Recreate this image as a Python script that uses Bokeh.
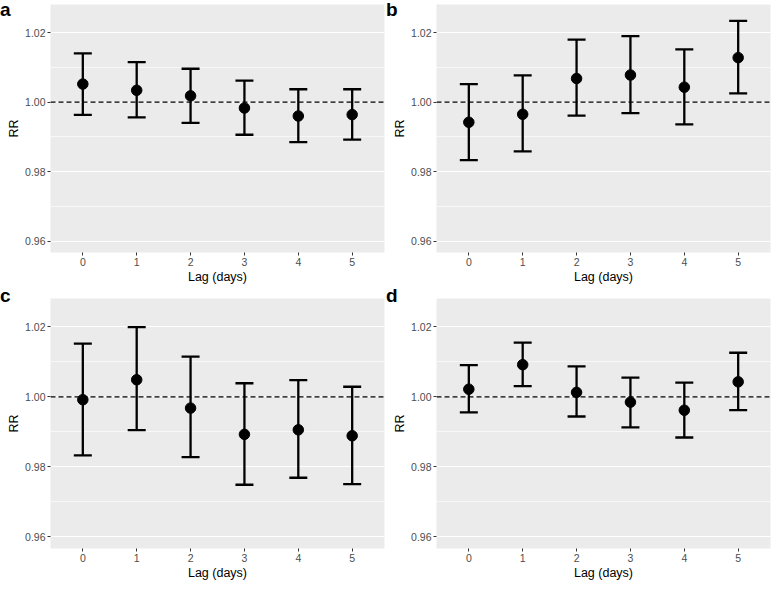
from bokeh.plotting import figure
from bokeh.layouts import column, row
from bokeh.models import (ColumnDataSource, Whisker, TeeHead, Span, Range1d, Div,
                          FixedTicker, CustomJSTickFormatter)
from bokeh.embed import file_html
from bokeh.resources import INLINE

lags = [0, 1, 2, 3, 4, 5]

rr_a = [1.0052, 1.0034, 1.0018, 0.9983, 0.9960, 0.9964]
lo_a = [0.9963, 0.9956, 0.9940, 0.9906, 0.9885, 0.9892]
hi_a = [1.0140, 1.0115, 1.0096, 1.0062, 1.0037, 1.0037]

rr_b = [0.9942, 0.9965, 1.0068, 1.0078, 1.0043, 1.0128]
lo_b = [0.9833, 0.9858, 0.9961, 0.9968, 0.9936, 1.0025]
hi_b = [1.0052, 1.0077, 1.0180, 1.0190, 1.0152, 1.0234]

rr_c = [0.9992, 1.0049, 0.9968, 0.9893, 0.9906, 0.9889]
lo_c = [0.9833, 0.9905, 0.9828, 0.9749, 0.9769, 0.9751]
hi_c = [1.0152, 1.0199, 1.0115, 1.0039, 1.0048, 1.0029]

rr_d = [1.0022, 1.0092, 1.0013, 0.9985, 0.9962, 1.0043]
lo_d = [0.9956, 1.0031, 0.9944, 0.9913, 0.9884, 0.9962]
hi_d = [1.0091, 1.0155, 1.0087, 1.0055, 1.0041, 1.0126]

panel_labels = ["a", "b", "c", "d"]
y_ticks = [0.96, 0.98, 1.00, 1.02]
y_minor = [0.97, 0.99, 1.01]

FONT = "Liberation Sans"
X0, X1 = -0.6, 5.6
Y0, Y1 = 0.9567, 1.0281
FW = 334


def make_panel(rr, lo, hi, top_border, frame_h):
    p = figure(frame_width=FW, frame_height=frame_h,
               x_range=Range1d(X0, X1), y_range=Range1d(Y0, Y1),
               output_backend="svg", toolbar_location=None,
               min_border_left=41, min_border_right=2,
               min_border_top=top_border, min_border_bottom=0)
    p.background_fill_color = "#EBEBEB"
    p.border_fill_color = "white"
    p.outline_line_color = None

    p.xgrid.visible = False
    p.ygrid.ticker = FixedTicker(ticks=y_ticks, minor_ticks=y_minor)
    p.ygrid.grid_line_color = "white"
    p.ygrid.grid_line_width = 1.2
    p.ygrid.minor_grid_line_color = "white"
    p.ygrid.minor_grid_line_width = 0.6

    p.xaxis.ticker = FixedTicker(ticks=lags)
    p.yaxis.ticker = FixedTicker(ticks=y_ticks)
    p.yaxis.formatter = CustomJSTickFormatter(code="return tick.toFixed(2);")

    for ax in (p.xaxis[0], p.yaxis[0]):
        ax.axis_line_color = None
        ax.major_tick_line_color = "#333333"
        ax.major_tick_line_width = 1
        ax.major_tick_out = 3
        ax.major_tick_in = 0
        ax.minor_tick_line_color = None
        ax.major_label_text_font = FONT
        ax.major_label_text_font_size = "10.5px"
        ax.major_label_text_color = "#4D4D4D"
        ax.major_label_standoff = 2
        ax.axis_label_text_font = FONT
        ax.axis_label_text_font_size = "12.5px"
        ax.axis_label_text_font_style = "normal"
        ax.axis_label_text_color = "black"
        ax.axis_label_standoff = 1
    p.xaxis.axis_label = "Lag (days)"
    p.yaxis.axis_label = "RR"

    src = ColumnDataSource(dict(x=lags, rr=rr, lo=lo, hi=hi))
    p.add_layout(Span(location=1.0, dimension="width", line_color="black",
                      line_width=1.4, line_dash="5 3"))
    w = Whisker(source=src, base="x", upper="hi", lower="lo",
                line_color="black", line_width=2.3,
                upper_head=TeeHead(size=18, line_color="black", line_width=2.3),
                lower_head=TeeHead(size=18, line_color="black", line_width=2.3))
    p.add_layout(w)
    p.scatter("x", "rr", source=src, size=10.5, color="black")
    return p


def letter(t):
    return Div(text=t, width=4, height=20, margin=0,
               styles={"font-family": FONT, "font-weight": "bold", "font-size": "19px",
                       "line-height": "19px", "overflow": "visible", "white-space": "nowrap",
                       "z-index": "10", "color": "black"})


pa = make_panel(rr_a, lo_a, hi_a, 4, 248)
pb = make_panel(rr_b, lo_b, hi_b, 4, 248)
pc = make_panel(rr_c, lo_c, hi_c, 12, 250)
pd = make_panel(rr_d, lo_d, hi_d, 12, 250)

layout = column(row(letter(panel_labels[0]), pa, letter(panel_labels[1]), pb, spacing=0),
                row(letter(panel_labels[2]), pc, letter(panel_labels[3]), pd, spacing=0),
                spacing=0)
open("out.html", "w").write(file_html(layout, INLINE))
